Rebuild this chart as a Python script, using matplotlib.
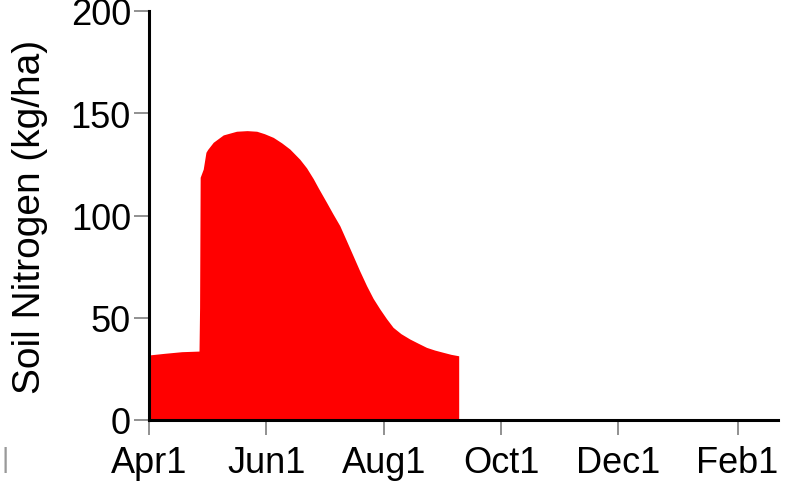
import matplotlib
matplotlib.use("Agg")
import matplotlib.pyplot as plt

# days after Apr1 and soil nitrogen (kg/ha)
days = [0, 8, 17, 26, 26.3, 26.6, 28.2, 29.6, 30.5, 33.4, 38.6, 45.5, 51, 56, 60,
        64.6, 69, 73.2, 78.4, 81.9, 85.4, 88, 92.3, 95.5, 99.2, 102.5, 106.1,
        109.5, 113.1, 116.5, 120, 123.5, 126.9, 131, 135.6, 140, 144.3, 148.5,
        152.9, 157, 161, 161]
nitrogen = [31.8, 32.6, 33.4, 33.7, 55, 118.7, 122.7, 130.9, 132.3, 135.8, 139.4,
            141.2, 141.5, 141.2, 140, 138.2, 135.5, 132.5, 127.5, 123.3, 118, 113.5,
            106.4, 101, 95, 88, 80.3, 73, 65.7, 59.5, 54.3, 49.5, 45.3, 42.2, 39.6,
            37.5, 35.5, 34.2, 33.1, 32.1, 31.4, 0]
tick_days = [0, 61, 122, 183, 244, 306]
tick_labels = ["Apr1", "Jun1", "Aug1", "Oct1", "Dec1", "Feb1"]

plt.rcParams["font.family"] = ["Liberation Sans", "DejaVu Sans"]

fig = plt.figure(figsize=(7.95, 4.89), dpi=100)
ax = fig.add_axes([149/795, 68/489, 629/795, 409/489])

ax.fill_between(days, nitrogen, 0, color="#ff0000", linewidth=0)

ax.set_xlim(0, 327)
ax.set_ylim(0, 200)
ax.set_yticks([0, 50, 100, 150, 200])
ax.set_xticks(tick_days)
ax.set_xticklabels(tick_labels)
ax.set_ylabel("Soil Nitrogen (kg/ha)", fontsize=28, labelpad=16)

for s in ["top", "right"]:
    ax.spines[s].set_visible(False)
for s in ["left", "bottom"]:
    ax.spines[s].set_linewidth(2.2)
    ax.spines[s].set_color("black")
ax.tick_params(axis="both", labelsize=26, color="#888888", width=1.3, length=11,
               direction="out")
ax.tick_params(axis="x", pad=7)
ax.tick_params(axis="y", pad=2)

fig.text(0.002, 0.045, "|", color="#999999", fontsize=20)

fig.savefig("out.png", dpi=100)
